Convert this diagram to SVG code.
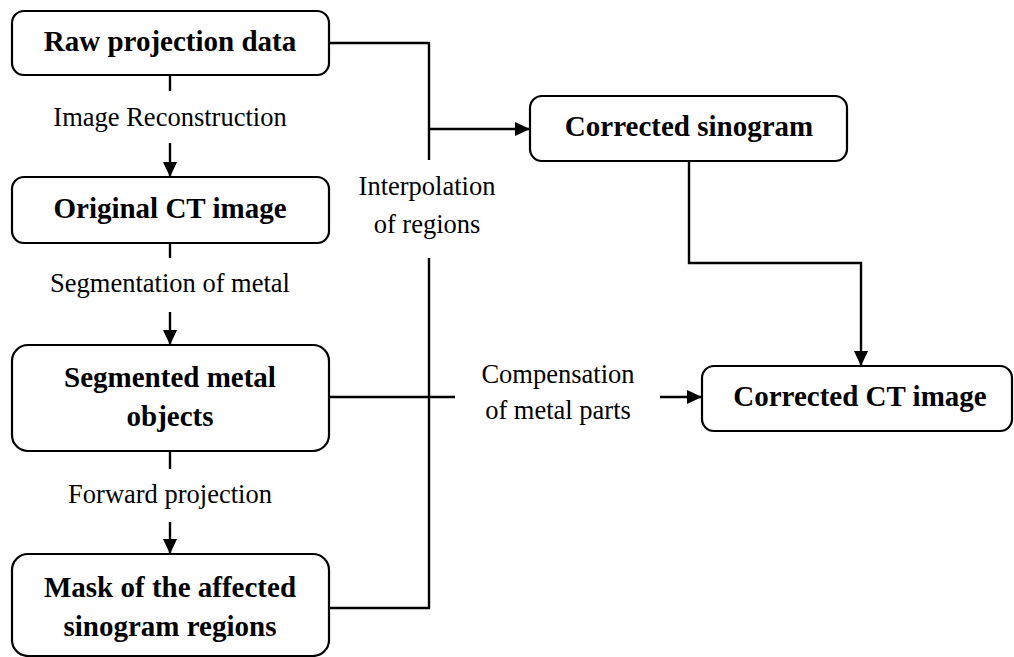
<svg xmlns="http://www.w3.org/2000/svg" width="1014" height="657" viewBox="0 0 1014 657">
  <style>
    .box { fill: #ffffff; stroke: #000000; stroke-width: 2.2; }
    .title { font-family: "Liberation Serif", "Times New Roman", serif; font-weight: bold; font-size: 29px; fill: #000000; text-anchor: middle; }
    .label { font-family: "Liberation Serif", "Times New Roman", serif; font-size: 26.5px; fill: #000000; text-anchor: middle; }
    .wire { fill: none; stroke: #000000; stroke-width: 2.4; }
  </style>
  <defs>
    <marker id="arrow" viewBox="0 0 15 14" refX="15" refY="7" markerWidth="15" markerHeight="14" markerUnits="userSpaceOnUse" orient="auto">
      <path d="M0,0 L15,7 L0,14 z" fill="#000000"/>
    </marker>
  </defs>

  <rect width="1014" height="657" fill="#ffffff"/>

  <!-- connectors -->
  <g id="connectors">
    <!-- left column: processing chain -->
    <line class="wire" x1="170" y1="75" x2="170" y2="91"/>
    <line class="wire" x1="170" y1="143" x2="170" y2="177" marker-end="url(#arrow)"/>
    <line class="wire" x1="170" y1="243" x2="170" y2="258"/>
    <line class="wire" x1="170" y1="312" x2="170" y2="345" marker-end="url(#arrow)"/>
    <line class="wire" x1="170" y1="451" x2="170" y2="469"/>
    <line class="wire" x1="170" y1="522" x2="170" y2="554" marker-end="url(#arrow)"/>

    <!-- interpolation bus -->
    <polyline class="wire" points="329,43 429,43 429,160"/>
    <line class="wire" x1="429" y1="129" x2="530" y2="129" marker-end="url(#arrow)"/>
    <polyline class="wire" points="329,608 429,608 429,258"/>

    <!-- compensation path -->
    <line class="wire" x1="329" y1="397" x2="455" y2="397"/>
    <line class="wire" x1="660" y1="397" x2="702" y2="397" marker-end="url(#arrow)"/>

    <!-- corrected sinogram to corrected image -->
    <polyline class="wire" points="689,161 689,263 861,263 861,366" marker-end="url(#arrow)"/>

    <!-- edge labels -->
    <text class="label" x="170" y="126">Image Reconstruction</text>
    <text class="label" x="170" y="292">Segmentation of metal</text>
    <text class="label" x="170" y="503">Forward projection</text>
    <text class="label" x="427" y="195">Interpolation</text>
    <text class="label" x="427" y="233">of regions</text>
    <text class="label" x="558" y="383">Compensation</text>
    <text class="label" x="558" y="419">of metal parts</text>
  </g>

  <g id="raw-projection-data">
    <rect class="box" x="12" y="11" width="317" height="64" rx="12"/>
    <text class="title" x="170" y="51">Raw projection data</text>
  </g>

  <g id="original-ct-image">
    <rect class="box" x="12" y="177" width="317" height="66" rx="12"/>
    <text class="title" x="170" y="218">Original CT image</text>
  </g>

  <g id="segmented-metal-objects">
    <rect class="box" x="12" y="345" width="317" height="106" rx="16"/>
    <text class="title" x="170" y="387">Segmented metal</text>
    <text class="title" x="170" y="426">objects</text>
  </g>

  <g id="mask-of-affected-regions">
    <rect class="box" x="12" y="554" width="317" height="102" rx="16"/>
    <text class="title" x="170" y="597">Mask of the affected</text>
    <text class="title" x="170" y="636">sinogram regions</text>
  </g>

  <g id="corrected-sinogram">
    <rect class="box" x="530" y="96" width="317" height="65" rx="12"/>
    <text class="title" x="689" y="136">Corrected sinogram</text>
  </g>

  <g id="corrected-ct-image">
    <rect class="box" x="702" y="366" width="310" height="65" rx="12"/>
    <text class="title" x="860" y="406">Corrected CT image</text>
  </g>
</svg>
